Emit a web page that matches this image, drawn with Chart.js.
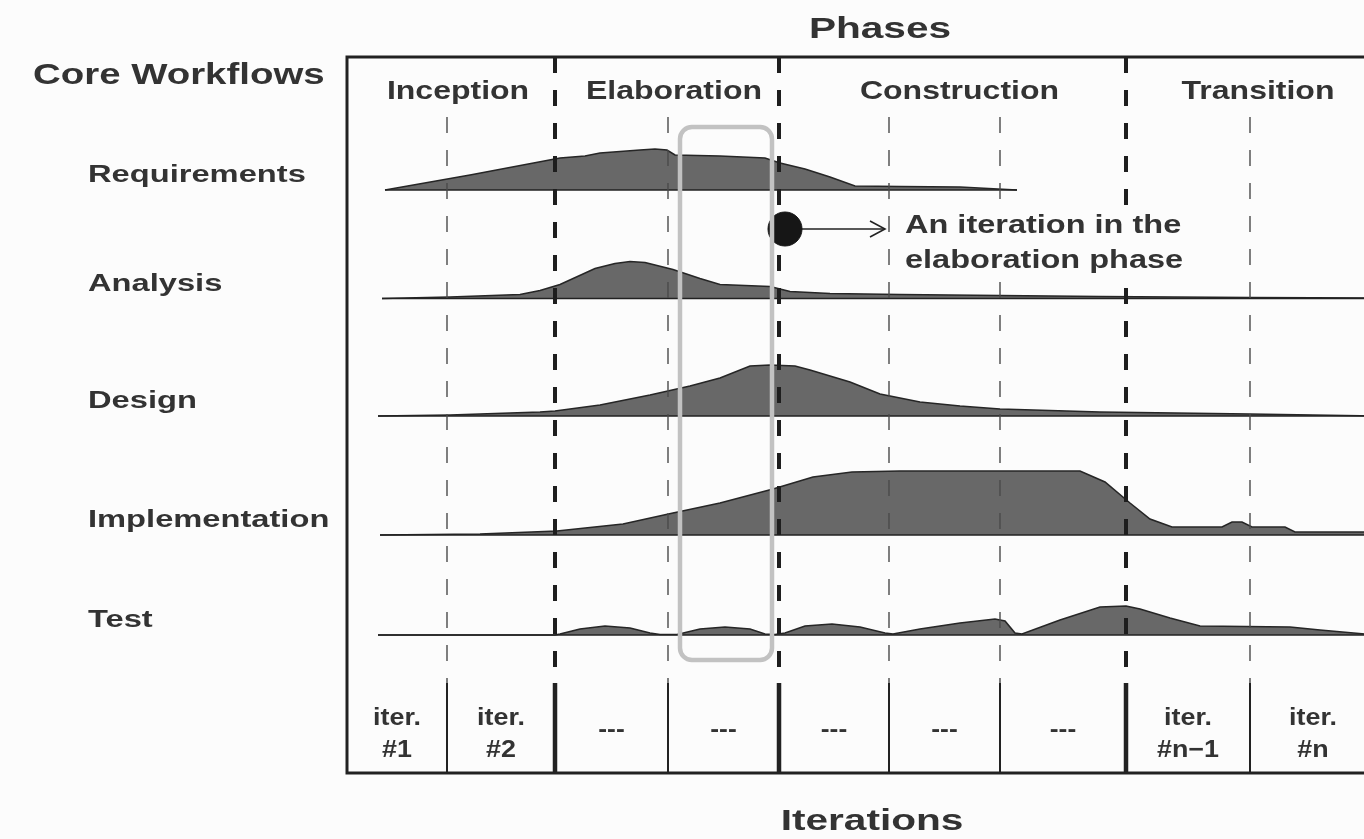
<!DOCTYPE html>
<html><head><meta charset="utf-8">
<script src="https://cdn.jsdelivr.net/npm/chart.js@4"></script>
<style>html,body{margin:0;padding:0;background:#fcfcfc;overflow:hidden;width:1364px;height:839px}canvas{display:block}</style>
</head><body><canvas id="c" width="1420" height="839"></canvas>
<script>
// ---------- DATA ----------
const workflows = ["Requirements", "Analysis", "Design", "Implementation", "Test"];
const phases = ["Inception", "Elaboration", "Construction", "Transition"];
const phaseIterations = [2, 2, 3, 2];
const iterationLabels = [["iter.", "#1"], ["iter.", "#2"], ["---"], ["---"], ["---"], ["---"], ["---"], ["iter.", "#n\u22121"], ["iter.", "#n"]];
// iteration boundaries along the time axis
const iterationBounds = [0, 10.0, 20.8, 32.1, 43.2, 54.2, 65.3, 77.9, 90.3, 102.9];
// effort curves: [time, effort]
const requirements = [[3.8,0],[12.3,1.5],[21.3,3.2],[23.8,3.4],[25.3,3.7],[29.3,4.0],[30.8,4.1],[32.0,4.0],[32.8,3.5],[37.3,3.4],[41.8,3.2],[43.3,2.7],[45.8,2.1],[48.3,1.3],[50.8,0.4],[55.3,0.35],[61.3,0.3],[67.0,0]];
const analysis = [[3.5,0],[10.3,0.15],[17.3,0.4],[19.3,0.8],[21.3,1.4],[24.8,3.0],[26.8,3.5],[28.3,3.7],[29.8,3.6],[32.6,2.9],[35.3,2.0],[37.3,1.4],[42.3,1.2],[44.3,0.7],[48.3,0.5],[55.3,0.4],[65.3,0.3],[75.3,0.2],[90.3,0.1],[102.9,0.05]];
const design = [[3.1,0],[10.3,0.1],[19.3,0.4],[20.8,0.5],[25.3,1.1],[30.3,2.1],[34.3,3.0],[37.3,3.8],[40.3,5.0],[42.3,5.1],[44.8,5.0],[46.3,4.6],[50.3,3.4],[53.3,2.2],[57.3,1.4],[61.3,1.0],[65.3,0.7],[75.3,0.4],[90.3,0.2],[102.9,0]];
const implementation = [[3.3,0],[13.3,0.1],[21.0,0.4],[27.6,1.1],[32.6,2.2],[37.3,3.2],[42.6,4.6],[46.6,5.8],[50.5,6.3],[55.3,6.4],[73.3,6.4],[75.8,5.3],[78.3,3.2],[80.3,1.6],[82.5,0.8],[87.5,0.8],[88.5,1.3],[89.5,1.3],[90.5,0.8],[93.8,0.8],[94.8,0.3],[102.9,0.3]];
const test = [[3.1,0],[20.8,0],[21.3,0.1],[23.3,0.6],[25.8,0.9],[28.3,0.7],[30.3,0.2],[31.3,0.05],[33.0,0.05],[35.3,0.6],[37.8,0.8],[40.3,0.6],[41.8,0.1],[42.8,0.05],[43.8,0.2],[45.8,0.9],[48.5,1.1],[51.3,0.8],[53.8,0.2],[54.6,0.1],[57.3,0.6],[61.3,1.2],[64.8,1.6],[65.8,1.4],[66.8,0.2],[67.5,0.1],[71.3,1.5],[75.3,2.8],[77.9,2.9],[79.3,2.6],[82.3,1.7],[85.3,0.9],[94.3,0.8],[97.3,0.5],[102.9,0]];
const workflowCurves = [requirements, analysis, design, implementation, test];
const annotationText = ["An iteration in the", "elaboration phase"];
const highlightedIteration = 3;

// ---------- LAYOUT ----------
const rowBase = [58.3, 47.45, 35.7, 23.8, 13.8];
const Y_MAX = 71.6, ITER_ROW = 9.0, THIN_TOP = 65.6;
const DOT = {x: 43.8, y: 54.4}, ARROW_END = 53.8, TEXT_X = 55.8;
const FONT = '"Liberation Sans", Arial, Helvetica, sans-serif';
const INK = '#222', TXT = '#333', BG = '#fcfcfc';

const phaseBoundIdx = [];
{ let s = 0; phaseIterations.forEach(n => { s += n; phaseBoundIdx.push(s); }); }

const datasets = [];
workflowCurves.forEach((pts, i) => {
  datasets.push({ label: workflows[i], data: pts.map(([x, h]) => ({x, y: rowBase[i] + h})),
    fill: {value: rowBase[i]}, backgroundColor: '#686868', borderColor: '#262626', borderWidth: 1.6,
    pointRadius: 0, order: 10 });
  const endX = i === 0 ? pts[pts.length - 1][0] : iterationBounds[iterationBounds.length - 1];
  datasets.push({ label: workflows[i] + ' base', data: [{x: pts[0][0], y: rowBase[i]}, {x: endX, y: rowBase[i]}],
    fill: false, borderColor: INK, borderWidth: 1.6, pointRadius: 0, order: 9 });
});
iterationBounds.slice(1, -1).forEach((b, k) => {
  const idx = k + 1, isPhase = phaseBoundIdx.includes(idx);
  datasets.push({ label: 'dash' + idx, data: [{x: b, y: isPhase ? Y_MAX : THIN_TOP}, {x: b, y: ITER_ROW}],
    fill: false, borderColor: isPhase ? '#1e1e1e' : '#4a4a4a', borderWidth: isPhase ? 4 : 1.4,
    borderDash: [16, 17], pointRadius: 0, order: 5 });
  datasets.push({ label: 'div' + idx, data: [{x: b, y: ITER_ROW}, {x: b, y: 0}],
    fill: false, borderColor: INK, borderWidth: isPhase ? 4.5 : 2, pointRadius: 0, order: 5 });
});
datasets.push({ label: 'arrow', data: [{x: DOT.x, y: DOT.y}, {x: ARROW_END, y: DOT.y}], fill: false,
  borderColor: INK, borderWidth: 1.6, pointRadius: 0, order: 2 });
datasets.push({ label: 'dot', data: [DOT], showLine: false, pointRadius: 17, pointHoverRadius: 17,
  pointBackgroundColor: '#161616', pointBorderColor: '#161616', order: 1, clip: false });

function txt(ctx, s, x, y, size, sx, align) {
  ctx.save();
  ctx.translate(x, y); ctx.scale(sx, 1);
  ctx.font = 'bold ' + size + 'px ' + FONT;
  ctx.fillStyle = TXT; ctx.textAlign = align || 'center'; ctx.textBaseline = 'middle';
  ctx.fillText(s, 0, 0);
  ctx.restore();
}

const deco = {
  id: 'deco',
  afterDatasetsDraw(chart) {
    const {ctx, chartArea: a, scales: {x, y}} = chart;
    ctx.save();
    // clear space behind the annotation text
    const tx = x.getPixelForValue(TEXT_X);
    ctx.fillStyle = BG;
    ctx.fillRect(tx - 4, 208, 292, 72);
    // highlight box around one iteration
    const l = x.getPixelForValue(iterationBounds[highlightedIteration]) + 12;
    const r = x.getPixelForValue(iterationBounds[highlightedIteration + 1]) - 7;
    const t = y.getPixelForValue(64.6), btm = y.getPixelForValue(11.3);
    ctx.strokeStyle = '#c2c2c2'; ctx.lineWidth = 4.5;
    ctx.beginPath(); ctx.roundRect(l, t, r - l, btm - t, 12); ctx.stroke();
    // frame
    ctx.strokeStyle = INK; ctx.lineWidth = 3;
    ctx.strokeRect(a.left, a.top, a.right - a.left, a.bottom - a.top);
    // arrowhead
    const ax = x.getPixelForValue(ARROW_END), ay = y.getPixelForValue(DOT.y);
    ctx.lineWidth = 1.6;
    ctx.beginPath(); ctx.moveTo(ax - 15, ay - 8); ctx.lineTo(ax, ay); ctx.lineTo(ax - 15, ay + 8); ctx.stroke();
    ctx.restore();
  },
  afterDraw(chart) {
    const {ctx, scales: {x, y}} = chart;
    txt(ctx, 'Phases', 880, 30, 29, 1.4);
    txt(ctx, 'Iterations', 872, 822, 29, 1.4);
    txt(ctx, 'Core Workflows', 33, 76, 30, 1.28, 'left');
    workflows.forEach((w, i) => txt(ctx, w, 88, y.getPixelForValue(rowBase[i]) - 14, 23, 1.42, 'left'));
    let s = 0;
    phases.forEach((p, i) => {
      const x0 = x.getPixelForValue(iterationBounds[s]);
      s += phaseIterations[i];
      const x1 = x.getPixelForValue(iterationBounds[s]);
      txt(ctx, p, (x0 + x1) / 2 + 7, 92, 25, 1.28);
    });
    iterationLabels.forEach((lab, i) => {
      const cx = (x.getPixelForValue(iterationBounds[i]) + x.getPixelForValue(iterationBounds[i + 1])) / 2;
      if (lab.length === 1) txt(ctx, lab[0], cx, 731, 23, 1.15);
      else { txt(ctx, lab[0], cx, 718, 24, 1.12); txt(ctx, lab[1], cx, 750, 24, 1.12); }
    });
    const tx = x.getPixelForValue(TEXT_X);
    txt(ctx, annotationText[0], tx, 226, 25, 1.3, 'left');
    txt(ctx, annotationText[1], tx, 261, 25, 1.3, 'left');
  }
};

new Chart(document.getElementById('c'), {
  type: 'line',
  data: { datasets },
  options: {
    responsive: false, animation: false, devicePixelRatio: 1, events: [],
    layout: { padding: {left: 347, right: 44, top: 57, bottom: 66} },
    scales: {
      x: { type: 'linear', min: 0, max: 102.9, display: false },
      y: { type: 'linear', min: 0, max: Y_MAX, display: false }
    },
    plugins: { legend: {display: false}, tooltip: {enabled: false} }
  },
  plugins: [deco]
});
</script></body></html>
